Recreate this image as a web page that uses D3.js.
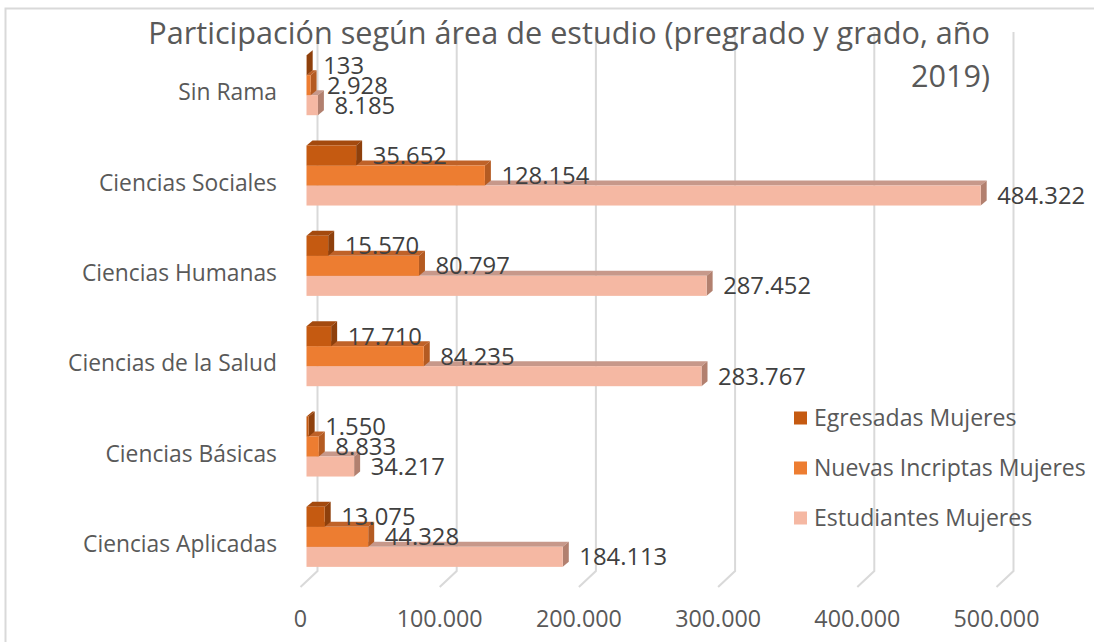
<!DOCTYPE html>
<html>
<head>
<meta charset="utf-8">
<script src="https://cdn.jsdelivr.net/npm/d3@7"></script>
<style>
  html, body { margin: 0; padding: 0; background: #ffffff; }
  svg { display: block; }
</style>
</head>
<body>
<svg id="chart" width="1094" height="642"></svg>
<script>
// ---------------- data ----------------
const titleLines = ["Participación según área de estudio (pregrado y grado, año", "2019)"];
const categories = ["Sin Rama", "Ciencias Sociales", "Ciencias Humanas", "Ciencias de la Salud", "Ciencias Básicas", "Ciencias Aplicadas"];
const seriesNames = ["Egresadas Mujeres", "Nuevas Incriptas Mujeres", "Estudiantes Mujeres"];
const egresadas   = [133, 35652, 15570, 17710, 1550, 13075];
const nuevas      = [2928, 128154, 80797, 84235, 8833, 44328];
const estudiantes = [8185, 484322, 287452, 283767, 34217, 184113];
const tickValues  = [0, 100000, 200000, 300000, 400000, 500000];

// ---------------- styling / layout ----------------
const FONT = "'Open Sans', 'DejaVu Sans', sans-serif";
const seriesStyle = [
  { front: "#C55A11", top: "#A44A0E", side: "#8E400C" },
  { front: "#ED7D31", top: "#BF6228", side: "#B45B22" },
  { front: "#F5B8A3", top: "#C7988A", side: "#B2806F" }
];
const values = [egresadas, nuevas, estudiantes];
const loc = d3.formatLocale({ decimal: ",", thousands: ".", grouping: [3], currency: ["", ""] });
const fmt = loc.format(",d");

const svg = d3.select("#chart");

// helper: font size so that a sample string reaches a target width
function fitSize(sample, target) {
  const t = svg.append("text").attr("font-family", FONT).attr("font-size", 100).text(sample);
  const w = t.node().getComputedTextLength();
  t.remove();
  return 100 * target / w;
}

// chart border
svg.append("rect").attr("x", 5.5).attr("y", 8.5).attr("width", 1200).attr("height", 700)
  .attr("fill", "#ffffff").attr("stroke", "#D9D9D9").attr("stroke-width", 2);

// scales
const xLen = d3.scaleLinear().domain([0, 500000]).range([0, 696]);
const floorX0 = 300.5, floorY = 587;       // front floor line
const wallX0 = 317.5, wallY = 571;         // back wall bottom
const barX0 = 306.5;                        // front face of bars
const depthX = 6, depthY = 5;               // bar depth offset
const gridTop = 32;

const y = d3.scaleBand().domain(categories).range([40, 582]).paddingInner(0.335).paddingOuter(0.1675);
const ySub = d3.scaleBand().domain(seriesNames).range([0, y.bandwidth()]).padding(0);

// gridlines (back wall + floor diagonal)
const grid = svg.append("g");
tickValues.forEach(v => {
  const xb = wallX0 + xLen(v), xf = floorX0 + xLen(v);
  grid.append("path")
    .attr("d", `M${xb},${gridTop}L${xb},${wallY}L${xf},${floorY}`)
    .attr("fill", "none").attr("stroke", "#D9D9D9").attr("stroke-width", 2);
});

// tick labels
const tickSize = fitSize("500.000", 86);
svg.append("g").selectAll("text").data(tickValues).join("text")
  .attr("x", d => floorX0 + xLen(d))
  .attr("y", 627)
  .attr("text-anchor", "middle")
  .attr("font-family", FONT).attr("font-size", tickSize).attr("fill", "#595959")
  .text(d => fmt(d));

// category labels
const catSize = fitSize("Ciencias Aplicadas", 194);
svg.append("g").selectAll("text").data(categories).join("text")
  .attr("x", 277)
  .attr("y", d => y(d) + y.bandwidth() / 2 + 15)
  .attr("text-anchor", "end")
  .attr("font-family", FONT).attr("font-size", catSize).attr("fill", "#595959")
  .text(d => d);

// bars: draw bottom category first, bottom series first
const bars = svg.append("g");
const order = d3.range(categories.length).reverse();
order.forEach(ci => {
  [2, 1, 0].forEach(si => {
    const v = values[si][ci];
    const st = seriesStyle[si];
    const y0 = y(categories[ci]) + ySub(seriesNames[si]);
    const h = ySub.bandwidth();
    const xe = barX0 + xLen(v);
    const g = bars.append("g");
    g.append("path")
      .attr("d", `M${barX0},${y0}L${barX0 + depthX},${y0 - depthY}L${xe + depthX},${y0 - depthY}L${xe},${y0}Z`)
      .attr("fill", st.top);
    g.append("path")
      .attr("d", `M${xe},${y0}L${xe + depthX},${y0 - depthY}L${xe + depthX},${y0 + h - depthY}L${xe},${y0 + h}Z`)
      .attr("fill", st.side);
    g.append("rect")
      .attr("x", barX0).attr("y", y0)
      .attr("width", Math.max(0, xLen(v))).attr("height", h)
      .attr("fill", st.front);
  });
});

// value labels
const valSize = fitSize("484.322", 88);
const lab = svg.append("g");
categories.forEach((c, ci) => {
  [0, 1, 2].forEach(si => {
    const v = values[si][ci];
    const cy = y(c) + ySub(seriesNames[si]) + ySub.bandwidth() / 2;
    lab.append("text")
      .attr("x", barX0 + xLen(v) + 16.5)
      .attr("y", cy + valSize * 0.36)
      .attr("font-family", FONT).attr("font-size", valSize).attr("fill", "#404040")
      .text(fmt(v));
  });
});

// legend
const legSize = fitSize("Nuevas Incriptas Mujeres", 272);
const legY = [418, 468, 518];
const leg = svg.append("g");
seriesNames.forEach((s, i) => {
  leg.append("rect").attr("x", 794).attr("y", legY[i] - 6.5).attr("width", 13).attr("height", 13)
    .attr("fill", seriesStyle[i].front);
  leg.append("text").attr("x", 814).attr("y", legY[i] + legSize * 0.36)
    .attr("font-family", FONT).attr("font-size", legSize).attr("fill", "#595959")
    .text(s);
});

// title
const titleSize = fitSize(titleLines[0], 842);
const titleBase = [44, 87];
svg.append("g").selectAll("text").data(titleLines).join("text")
  .attr("x", 990).attr("y", (d, i) => titleBase[i])
  .attr("text-anchor", "end")
  .attr("font-family", FONT).attr("font-size", titleSize).attr("fill", "#595959")
  .text(d => d);
</script>
</body>
</html>
